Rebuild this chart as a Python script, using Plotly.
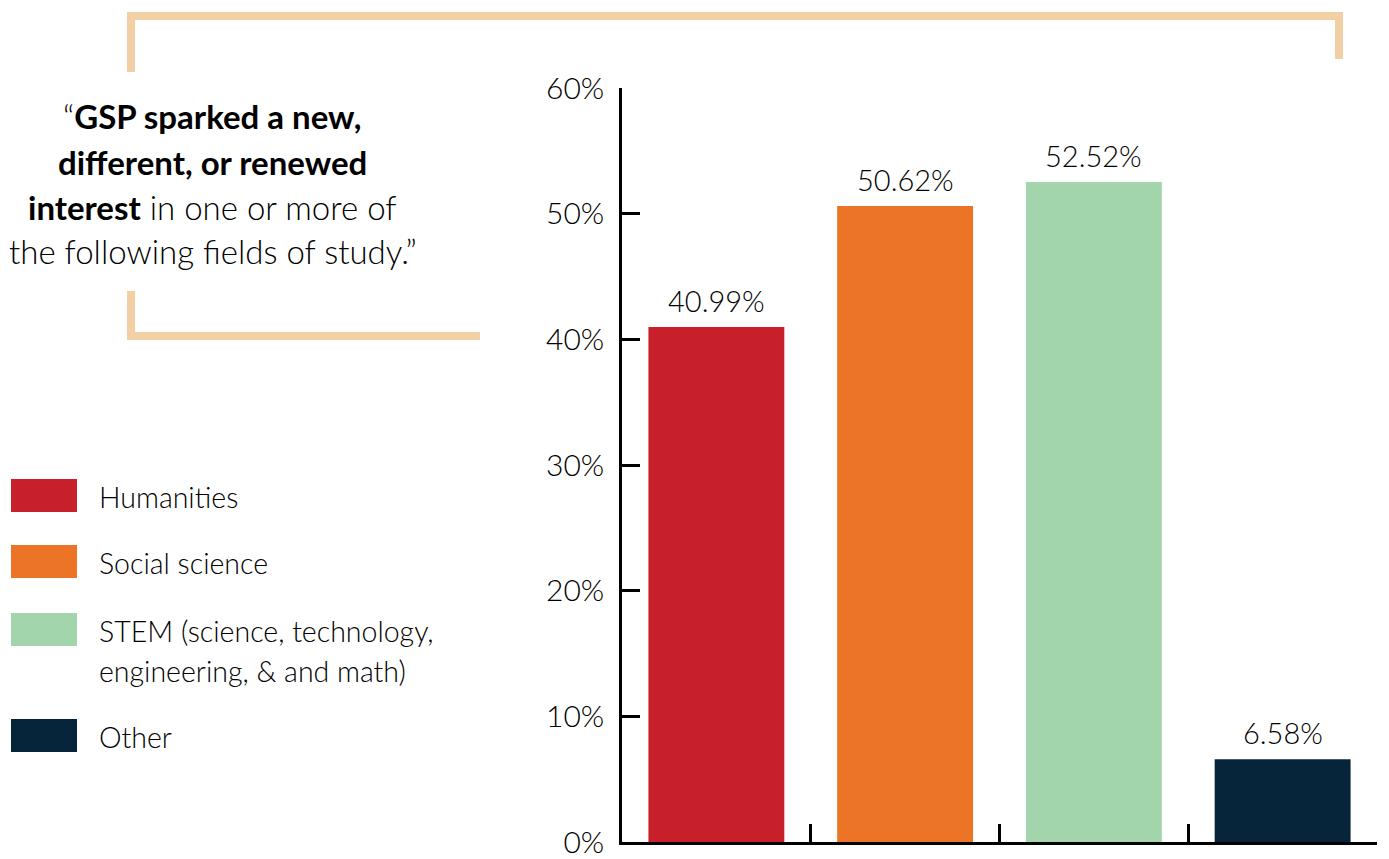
import plotly.graph_objects as go

categories = ["Humanities", "Social science", "STEM", "Other"]
values = [40.99, 50.62, 52.52, 6.58]
colors = ["#C8202A", "#EC7426", "#A3D5AD", "#06243A"]
legend_labels = [["Humanities"], ["Social science"],
                 ["STEM (science, technology,", "engineering, & and math)"], ["Other"]]
y_ticks = [0, 10, 20, 30, 40, 50, 60]
y_tick_labels = [f"{v}%" for v in y_ticks]
quote_lines = [
    "“<b>GSP sparked a new,</b>",
    "<b>different, or renewed</b>",
    "<b>interest</b> in one or more of",
    "the following fields of study.”",
]

W, H = 1389, 859
FONT = "Lato"
TXT = "#000000"
PEACH = "#F3CFA6"
LIGHT = 300


def px(x):
    return x / W


def py(y):
    return 1 - y / H


fig = go.Figure()
fig.add_trace(go.Bar(
    x=categories, y=values, marker_color=colors, marker_line_width=0,
    width=0.72, cliponaxis=False, showlegend=False, hoverinfo="skip",
))

annotations = []
# value labels above bars, placed on the data axes
for cat, val in zip(categories, values):
    annotations.append(dict(text=f"{val:.2f}%", xref="x", yref="y", x=cat, y=val,
                            xanchor="center", yanchor="bottom", yshift=7, showarrow=False,
                            font=dict(size=29, color=TXT, family=FONT, weight=LIGHT)))

shapes = []
# brackets
shapes.append(dict(type="path", xref="paper", yref="paper",
                   path=f"M {px(131)},{py(72)} L {px(131)},{py(16)} L {px(1339)},{py(16)} L {px(1339)},{py(59)}",
                   line=dict(color=PEACH, width=8)))
shapes.append(dict(type="path", xref="paper", yref="paper",
                   path=f"M {px(131)},{py(291)} L {px(131)},{py(336)} L {px(480)},{py(336)}",
                   line=dict(color=PEACH, width=8)))

quote_y = [116, 162, 207, 251]
for line, yy in zip(quote_lines, quote_y):
    annotations.append(dict(text=line, xref="paper", yref="paper", x=px(213), y=py(yy),
                            xanchor="center", yanchor="middle", showarrow=False,
                            font=dict(size=33, color=TXT, family=FONT, weight=LIGHT)))

swatch_tops = [479, 545, 613, 719]
for col, lab, top in zip(colors, legend_labels, swatch_tops):
    shapes.append(dict(type="rect", xref="paper", yref="paper",
                       x0=px(11), x1=px(77), y0=py(top), y1=py(top + 33),
                       fillcolor=col, line_width=0))
    for i, t in enumerate(lab):
        annotations.append(dict(text=t, xref="paper", yref="paper", x=px(97),
                                y=py(top + 18 + i * 40), xanchor="left", yanchor="middle",
                                showarrow=False,
                                font=dict(size=28.5, color=TXT, family=FONT, weight=LIGHT)))

fig.update_layout(
    width=W, height=H, margin=dict(l=0, r=0, t=0, b=0, autoexpand=False),
    paper_bgcolor="white", plot_bgcolor="white",
    font=dict(family=FONT, color=TXT),
    shapes=shapes, annotations=annotations,
    xaxis=dict(domain=[622 / W, 1377 / W], type="category", range=[-0.5, 3.5],
               automargin=False,
               showline=True, linecolor="black", linewidth=2.5,
               ticks="inside", tickson="boundaries", ticklen=18, tickwidth=2.5,
               tickcolor="black", showticklabels=False, showgrid=False, zeroline=False),
    yaxis=dict(domain=[1 - 842 / H, 1 - 88 / H], range=[0, 60],
               automargin=False, ticklabeloverflow="allow",
               tickvals=y_ticks, ticktext=y_tick_labels,
               showline=True, linecolor="black", linewidth=2.5,
               ticks="inside", ticklen=18, tickwidth=2.5, tickcolor="black",
               tickfont=dict(size=30, color=TXT, family=FONT, weight=LIGHT),
               ticklabelstandoff=9, showgrid=False, zeroline=False),
)

fig.write_html("out.html", config={"displayModeBar": False},
               post_script="document.body.style.margin='0';")
